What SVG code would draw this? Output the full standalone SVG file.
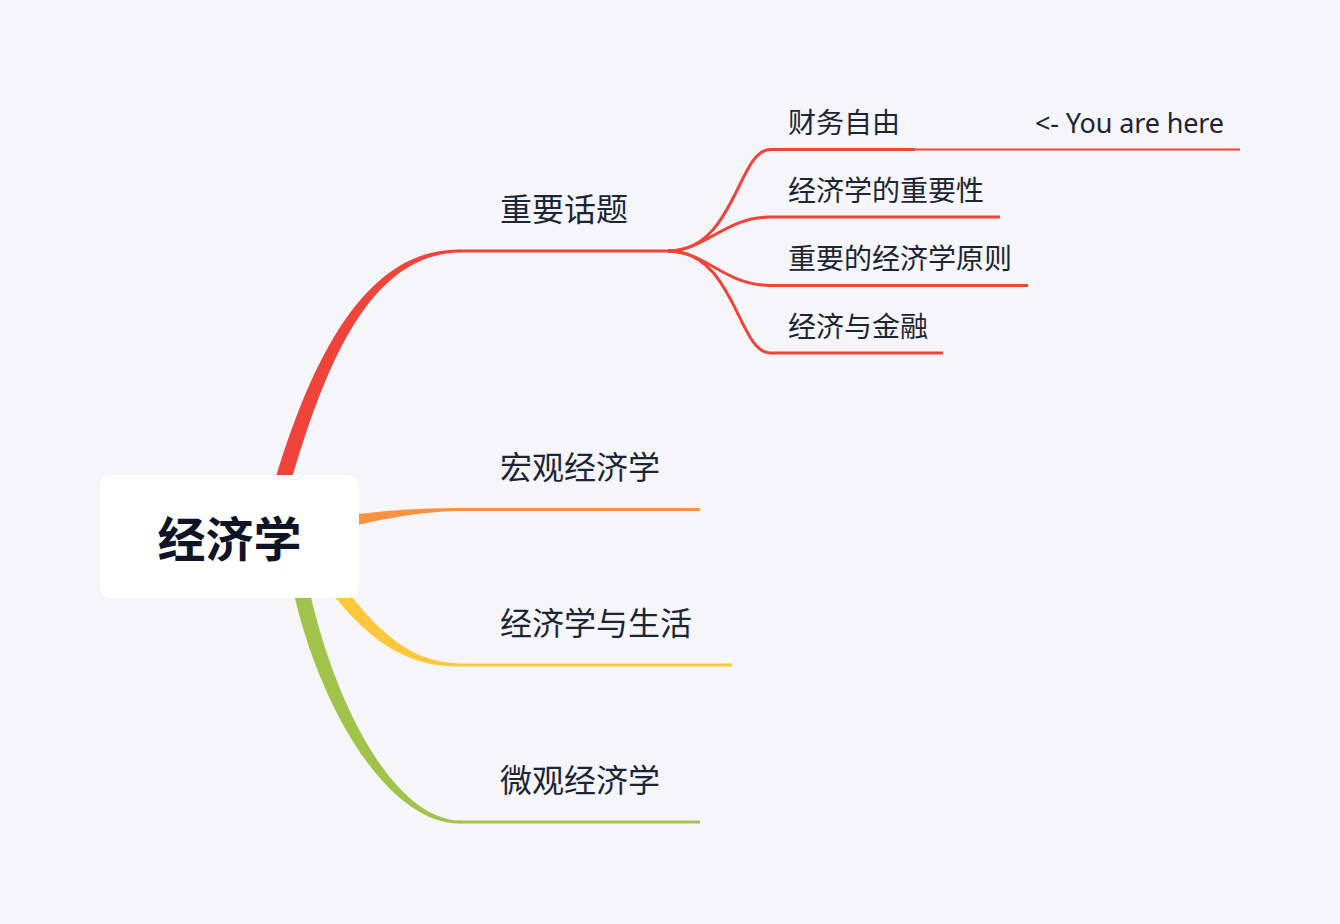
<svg xmlns="http://www.w3.org/2000/svg" width="1340" height="924" viewBox="0 0 1340 924">
<style>
.lbl{font-family:"Noto Sans","Noto Sans CJK SC",sans-serif;fill:#1c2536}
.l1{font-size:32px}
.l2{font-size:28px}
.red{stroke:#F0443A;fill:none;stroke-width:3;stroke-linecap:butt}
</style>
<rect width="1340" height="924" fill="#F5F5FA"/>
<g id="connectors">
  <path d="M264.3,517.9 C302.3,377.9 357.5,248 460,249.5 L460,252.5 C362.5,254 317.7,382.1 279.7,522.1 Z" fill="#F0443A"/>
  <line x1="459" y1="251" x2="672" y2="251" class="red"/>
  <path d="M300,523 C340,515.5 400,507.5 460,508 L460,511 C400,511.5 340,529.5 300,540 Z" fill="#F7923F"/>
  <line x1="459" y1="509.5" x2="700" y2="509.5" stroke="#F7923F" stroke-width="3"/>
  <path d="M328.7,565.9 C368.7,620.9 402.5,662 460,663.5 L460,666.5 C397.5,668 357.3,629.1 317.3,574.1 Z" fill="#FFC83C"/>
  <line x1="459" y1="665" x2="732" y2="665" stroke="#FFC83C" stroke-width="3"/>
  <path d="M302.9,558.6 C327.9,698.6 393.5,820 460,820.5 L460,823.5 C386.5,824 312.1,701.4 287.1,561.4 Z" fill="#A2C34A"/>
  <line x1="459" y1="822" x2="700" y2="822" stroke="#A2C34A" stroke-width="3"/>
  <path d="M668,251 C735,251 738,149.5 770,149.5 L915,149.5" class="red"/>
  <line x1="914" y1="149.5" x2="1240" y2="149.5" stroke="#F0443A" stroke-width="2"/>
  <path d="M668,251 C705,251 725,217 770,217 L1000,217" class="red"/>
  <path d="M668,251 C705,251 725,285.5 770,285.5 L1028,285.5" class="red"/>
  <path d="M668,251 C735,251 738,353 770,353 L943,353" class="red"/>
</g>
<g id="root">
  <rect x="100" y="475" width="259" height="123" rx="10" fill="#FFFFFF"/>
  <text x="229.5" y="557" text-anchor="middle" font-family="'Noto Sans CJK SC',sans-serif" font-weight="bold" font-size="48" fill="#0D1526">经济学</text>
</g>
<g id="n-topics"><text class="lbl l1" x="500" y="221">重要话题</text></g>
<g id="n-macro"><text class="lbl l1" x="500" y="479">宏观经济学</text></g>
<g id="n-life"><text class="lbl l1" x="500" y="635">经济学与生活</text></g>
<g id="n-micro"><text class="lbl l1" x="500" y="792">微观经济学</text></g>
<g id="n-freedom"><text class="lbl l2" x="788" y="133">财务自由</text></g>
<g id="n-here"><text class="lbl" x="1035" y="133" font-size="27" textLength="189">&lt;- You are here</text></g>
<g id="n-importance"><text class="lbl l2" x="788" y="201">经济学的重要性</text></g>
<g id="n-principles"><text class="lbl l2" x="788" y="269">重要的经济学原则</text></g>
<g id="n-finance"><text class="lbl l2" x="788" y="337">经济与金融</text></g>
</svg>
